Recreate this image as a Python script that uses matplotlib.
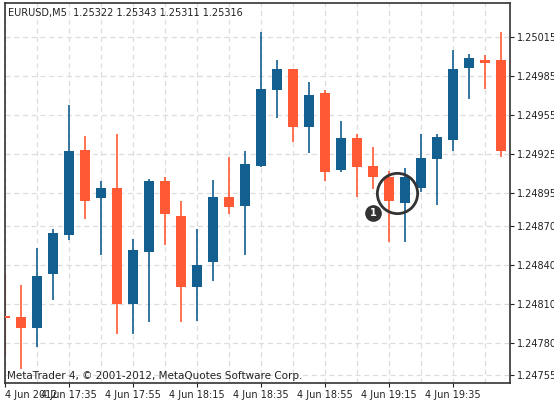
import matplotlib
matplotlib.use("Agg")
import matplotlib.pyplot as plt
import numpy as np

# 5-minute EURUSD bars
opens = [1.24800, 1.24800, 1.24791, 1.24833, 1.24863, 1.24928, 1.24891, 1.24899,
         1.24810, 1.24850, 1.24904, 1.24877, 1.24823, 1.24842, 1.24892, 1.24885,
         1.24916, 1.24974, 1.24990, 1.24946, 1.24972, 1.24913, 1.24937, 1.24916,
         1.24907, 1.24887, 1.24899, 1.24921, 1.24936, 1.24991, 1.24997, 1.24997]
highs = [1.24833, 1.24824, 1.24853, 1.24867, 1.24963, 1.24939, 1.24904, 1.24940,
         1.24860, 1.24906, 1.24907, 1.24889, 1.24867, 1.24905, 1.24923, 1.24927,
         1.25019, 1.24997, 1.24990, 1.24980, 1.24974, 1.24950, 1.24940, 1.24930,
         1.24912, 1.24914, 1.24940, 1.24940, 1.25005, 1.25002, 1.25001, 1.25019]
lows = [1.24770, 1.24760, 1.24777, 1.24813, 1.24859, 1.24875, 1.24847, 1.24787,
        1.24787, 1.24796, 1.24855, 1.24796, 1.24797, 1.24827, 1.24879, 1.24847,
        1.24915, 1.24953, 1.24934, 1.24926, 1.24904, 1.24911, 1.24892, 1.24898,
        1.24857, 1.24857, 1.24896, 1.24886, 1.24927, 1.24967, 1.24975, 1.24923]
closes = [1.24799, 1.24791, 1.24831, 1.24864, 1.24927, 1.24889, 1.24899, 1.24810,
          1.24851, 1.24904, 1.24879, 1.24823, 1.24840, 1.24892, 1.24884, 1.24917,
          1.24975, 1.24990, 1.24946, 1.24970, 1.24911, 1.24937, 1.24915, 1.24907,
          1.24889, 1.24907, 1.24922, 1.24938, 1.24990, 1.24999, 1.24995, 1.24927]

price_ticks = [1.25015, 1.24985, 1.24955, 1.24925, 1.24895, 1.24870,
               1.24840, 1.24810, 1.24780, 1.24755]
time_labels = ["4 Jun 2012", "4 Jun 17:35", "4 Jun 17:55", "4 Jun 18:15",
               "4 Jun 18:35", "4 Jun 18:55", "4 Jun 19:15", "4 Jun 19:35"]

UP = "#135f90"
DOWN = "#ff5a35"

fig = plt.figure(figsize=(5.54, 4.03), dpi=100)
ax = fig.add_axes([5 / 554, 1 - 383 / 403, 505 / 554, 380 / 403])

x = np.arange(len(opens))
for i in x:
    o, h, l, c = opens[i], highs[i], lows[i], closes[i]
    color = UP if c >= o else DOWN
    ax.vlines(i, l, h, color=color, linewidth=1.2, zorder=2)
    lo, hi = min(o, c), max(o, c)
    ax.bar(i, max(hi - lo, 0.000015), bottom=lo, width=0.68, color=color, zorder=3)

ax.set_xlim(0, 31.56)
ax.set_ylim(1.24749, 1.25041)

ax.set_xticks(np.arange(0, 32, 4))
ax.set_xticklabels(time_labels)
ax.get_xticklabels()[0].set_horizontalalignment("left")
ax.set_xticks(np.arange(2, 32, 2), minor=True)
ax.set_yticks(price_ticks)
ax.set_yticklabels([f"{v:.5f}" for v in price_ticks])
ax.yaxis.tick_right()
ax.tick_params(axis="both", labelsize=7, length=3, pad=2, colors="#222222")
ax.tick_params(axis="x", which="minor", length=0)
ax.grid(True, which="both", axis="x", color="#dddddd", linestyle=(0, (4, 3)), linewidth=0.9, zorder=0)
ax.grid(True, axis="y", color="#dddddd", linestyle=(0, (4, 3)), linewidth=0.9, zorder=0)
for s in ax.spines.values():
    s.set_color("#333333")
    s.set_linewidth(1.2)

ax.text(0.006, 0.988, "EURUSD,M5  1.25322 1.25343 1.25311 1.25316", transform=ax.transAxes,
        ha="left", va="top", fontsize=7, color="#222222")
ax.text(0.004, 0.005, "MetaTrader 4, \u00a9 2001-2012, MetaQuotes Software Corp.", transform=ax.transAxes,
        ha="left", va="bottom", fontsize=7.5, color="#222222")

# highlighted pair of bars
ax.plot(24.5, 1.24895, marker="o", markersize=29, mfc="none", mec="#333333", mew=2, zorder=4)
ax.plot(23.0, 1.24880, marker="o", markersize=11, mfc="#333333", mec="#333333", zorder=4)
ax.text(23.0, 1.24880, "1", ha="center", va="center", fontsize=7, fontweight="bold", color="white", zorder=5)

fig.savefig("out.png", dpi=100)
